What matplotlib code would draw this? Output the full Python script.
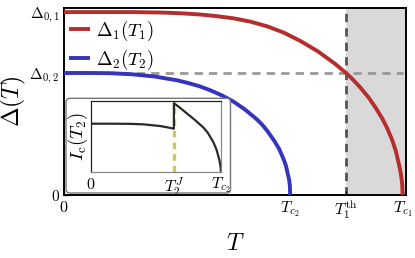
import matplotlib
matplotlib.use("Agg")
import matplotlib.pyplot as plt
from matplotlib.patches import FancyBboxPatch
from matplotlib.transforms import IdentityTransform

plt.rcParams['mathtext.fontset'] = 'cm'
plt.rcParams['font.family'] = ['DejaVu Serif']

# ---- data ----
Tc1 = 1.0
Tc2 = 0.668
T1th = 0.833
D01 = 1.0
D02 = 0.667

T1 = [0, 0.1, 0.2, 0.3, 0.35, 0.4, 0.45, 0.5, 0.55, 0.6, 0.65, 0.7, 0.75, 0.8,
      0.833, 0.85, 0.875, 0.9, 0.92, 0.94, 0.955, 0.97, 0.98, 0.987, 0.993,
      0.997, 0.999, 1.0]
D1 = [1.0, 1.0, 1.0, 0.997, 0.993, 0.987, 0.978, 0.966, 0.948, 0.922, 0.887,
      0.840, 0.785, 0.718, 0.667, 0.637, 0.588, 0.532, 0.478, 0.418, 0.363,
      0.297, 0.240, 0.185, 0.135, 0.088, 0.050, 0.0]

T2 = [0, 0.067, 0.134, 0.200, 0.267, 0.334, 0.367, 0.401, 0.434, 0.468, 0.501,
      0.534, 0.568, 0.585, 0.601, 0.621, 0.635, 0.648, 0.655, 0.661, 0.665, 0.667, 0.668]
D2 = [0.667, 0.667, 0.666, 0.660, 0.648, 0.627, 0.612, 0.594, 0.571, 0.543, 0.510,
      0.468, 0.416, 0.385, 0.349, 0.296, 0.253, 0.198, 0.163, 0.115, 0.082, 0.052, 0.0]

# inset: critical current
T2J = 0.426
Ti = [0, 0.1, 0.2, 0.269, 0.355, 0.395, 0.426, 0.426, 0.45, 0.49, 0.53, 0.577,
      0.60, 0.628, 0.645, 0.659, 0.665, 0.668]
Ic = [0.678, 0.678, 0.676, 0.669, 0.645, 0.625, 0.607, 0.968, 0.92, 0.83, 0.74,
      0.625, 0.55, 0.42, 0.31, 0.17, 0.08, 0.0]

xticks = [0, Tc2, T1th, Tc1]
xticklabels = [r'$0$', r'$T_{c_2}$', r'$T_1^{\rm th}$', r'$T_{c_1}$']
yticks = [0, D02, D01]
yticklabels = [r'$0$', r'$\Delta_{0,2}$', r'$\Delta_{0,1}$']
inset_ticks = [0, T2J, Tc2]
inset_labels = [r'$0$', r'$T_2^J$', r'$T_{c_2}$']

red = '#b52d2d'
blue = '#3434bf'

W, H = 415, 258
fig = plt.figure(figsize=(W / 100, H / 100), dpi=100)
ax = fig.add_axes([64 / W, 1 - 195 / H, (406 - 64) / W, (195 - 7.5) / H])
ax.set_xlim(0, 1.010)
ax.set_ylim(0, 1.025)

ax.axvspan(T1th, 1.010, color='#d9d9d9', lw=0, zorder=0)
ax.axvline(T1th, color='#555555', lw=2.0, ls=(0, (3, 2.2)), zorder=1)
ax.plot([0, Tc1], [D02, D02], color='#999999', lw=2.0, ls=(0, (3, 2.2)), zorder=1)
ax.plot(T1, D1, color=red, lw=2.8, label=r'$\Delta_1(T_1)$', zorder=3,
        solid_capstyle='butt')
ax.plot(T2, D2, color=blue, lw=2.8, label=r'$\Delta_2(T_2)$', zorder=3,
        solid_capstyle='butt')

ax.set_xticks(xticks)
ax.set_xticklabels(xticklabels, fontsize=11.5)
ax.set_yticks(yticks)
ax.set_yticklabels(yticklabels, fontsize=11)
ax.tick_params(direction='in', length=3, width=1, pad=3)
for s in ax.spines.values():
    s.set_linewidth(1.4)
ax.set_xlabel(r'$T$', fontsize=17, labelpad=8)
ax.set_ylabel(r'$\Delta(T)$', fontsize=17)
ax.yaxis.set_label_coords(-0.106, 0.5)

leg = ax.legend(loc='upper left', bbox_to_anchor=(0.015, 0.94), frameon=False,
                fontsize=13.5, handlelength=1.1, handletextpad=0.35,
                labelspacing=0.25, borderaxespad=0, borderpad=0)

# inset frame (rounded box)
box = FancyBboxPatch((66, H - 193), 164.5, 94.7,
                     boxstyle='round,pad=0,rounding_size=4',
                     transform=IdentityTransform(), facecolor='white',
                     edgecolor='#777777', lw=1.0, zorder=5)
fig.add_artist(box)

axi = fig.add_axes([91 / W, 1 - 171.5 / H, 130 / W, 70.5 / H], zorder=6)
axi.set_xlim(0, Tc2)
axi.set_ylim(0, 1)
axi.plot([T2J, T2J], [0, 1], color='#cccc55', lw=2.4, ls=(0, (2, 1.5)), zorder=1)
axi.plot(Ti, Ic, color='#2a2a2a', lw=1.6, zorder=2)
axi.set_xticks(inset_ticks)
axi.set_xticklabels(inset_labels, fontsize=11.5)
axi.set_yticks([])
axi.tick_params(length=0, pad=3)
for k in ['top', 'left']:
    axi.spines[k].set_color('#222222')
for k in ['bottom', 'right']:
    axi.spines[k].set_color('#888888')
for s in axi.spines.values():
    s.set_linewidth(0.9)
axi.set_ylabel(r'$I_{\rm c}(T_2)$', fontsize=13.5, labelpad=1)

fig.savefig('out.png', dpi=100)
